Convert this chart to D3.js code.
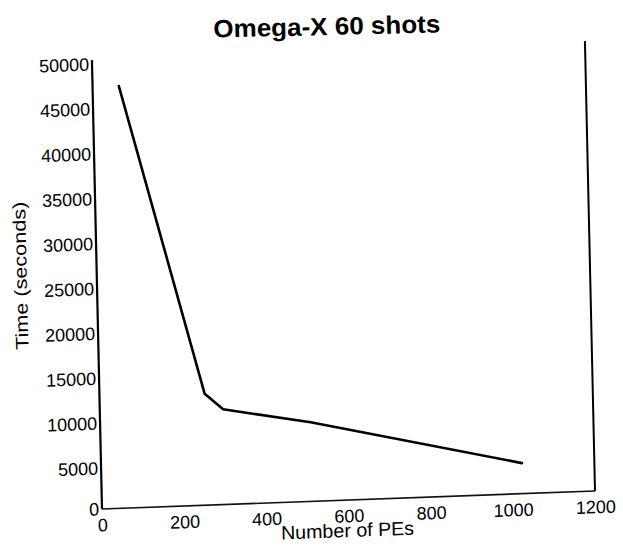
<!DOCTYPE html>
<html>
<head>
<meta charset="utf-8">
<script src="https://cdn.jsdelivr.net/npm/d3@7"></script>
<style>
  body { margin: 0; background: #fff; }
  svg { display: block; font-family: "Liberation Sans", Arial, sans-serif; }
</style>
</head>
<body>
<svg id="chart" width="623" height="554"></svg>
<script>
// PEs vs run time
const pes   = [64, 256, 300, 512, 1024];
const times = [47000, 12400, 10600, 8800, 3400];
const xTicks = [0, 200, 400, 600, 800, 1000, 1200];
const yTicks = [0, 5000, 10000, 15000, 20000, 25000, 30000, 35000, 40000, 45000, 50000];

const svg = d3.select('#chart');
const W = 493.3, H = 449;

// the scanned page is a little crooked, so the plot frame is sheared to match
const g = svg.append('g')
    .attr('transform', 'translate(102,509) matrix(0.9994,-0.0365,0.0224,0.9998,0,0)');

const x = d3.scaleLinear().domain([0, 1200]).range([0, W]);
const y = d3.scaleLinear().domain([0, 50000]).range([0, -H]);

const xAxis = g.append('g')
    .call(d3.axisBottom(x).tickValues(xTicks).tickSize(0).tickPadding(9.5).tickFormat(d3.format('d')));
const yAxis = g.append('g')
    .call(d3.axisLeft(y).tickValues(yTicks).tickSize(0).tickPadding(3).tickFormat(d3.format('d')));

[xAxis, yAxis].forEach(a => {
    a.select('.domain').remove();
    a.selectAll('text').attr('font-size', 18).attr('fill', '#000')
        .attr('font-family', '"Liberation Sans", Arial, sans-serif');
});
// labels sit a bit below their value on the scan
yAxis.selectAll('text').filter(d => d > 0).attr('dy', '0.55em');

// frame: left, bottom, right (no top)
g.append('path')
    .attr('d', `M0,${y(50000)}V0`)
    .attr('stroke', '#000')
    .attr('stroke-width', 2.2);
g.append('path')
    .attr('d', `M0,0H${x(1200)}`)
    .attr('stroke', '#111')
    .attr('stroke-width', 1.6);
g.append('path')
    .attr('d', `M${x(1200)},0V${y(50000) - 1}`)
    .attr('stroke', '#000')
    .attr('stroke-width', 2);

const line = d3.line()
    .x((d, i) => x(pes[i]))
    .y(d => y(d));

g.append('path')
    .datum(times)
    .attr('d', line)
    .attr('fill', 'none')
    .attr('stroke', '#000')
    .attr('stroke-width', 2.6)
    .attr('stroke-linejoin', 'round')
    .attr('stroke-linecap', 'round');

g.append('text')
    .attr('x', 245)
    .attr('y', 37)
    .attr('text-anchor', 'middle')
    .attr('font-size', 19)
    .attr('textLength', 133)
    .attr('lengthAdjust', 'spacingAndGlyphs')
    .text('Number of PEs');

g.append('text')
    .attr('transform', 'translate(-70,-236) rotate(-90)')
    .attr('text-anchor', 'middle')
    .attr('font-size', 18)
    .attr('textLength', 148)
    .attr('lengthAdjust', 'spacingAndGlyphs')
    .text('Time (seconds)');

svg.append('text')
    .attr('transform', 'translate(327,35) rotate(-1.3)')
    .attr('text-anchor', 'middle')
    .attr('font-size', 25)
    .attr('font-weight', 'bold')
    .attr('textLength', 227)
    .attr('lengthAdjust', 'spacingAndGlyphs')
    .text('Omega-X 60 shots');
</script>
</body>
</html>
